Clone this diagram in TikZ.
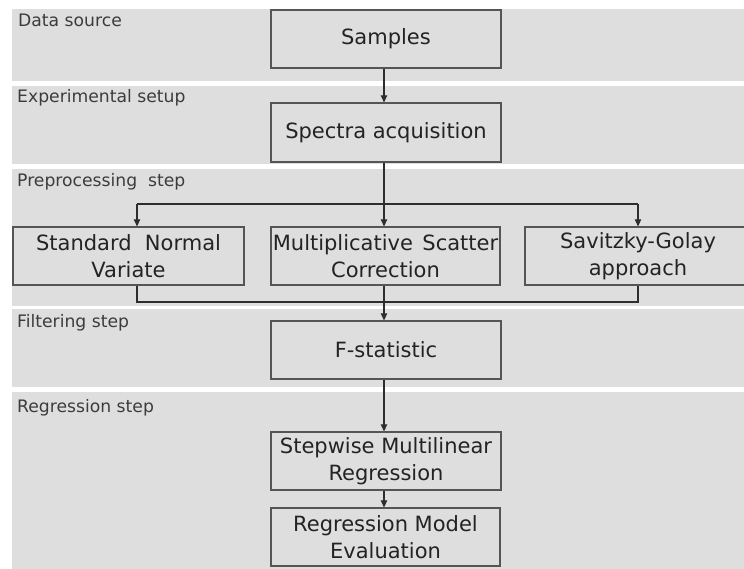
\documentclass[tikz,border=0pt]{standalone}
\usepackage{fontspec}
\setmainfont{DejaVu Sans}
\usetikzlibrary{arrows.meta}
\definecolor{bandgray}{RGB}{222,222,222}
\definecolor{boxline}{RGB}{85,85,85}
\definecolor{boxtext}{RGB}{35,35,35}
\definecolor{labeltext}{RGB}{60,60,60}
\definecolor{wire}{RGB}{45,45,45}
\tikzset{
  band/.style={fill=bandgray, draw=none},
  stagelabel/.style={anchor=base west, inner sep=0pt, text=labeltext,
    font=\fontsize{17.2}{20}\selectfont},
  stepbox/.style={draw=boxline, line width=1.3pt, inner sep=0pt,
    align=center, text=boxtext, font=\fontsize{21}{27}\selectfont,
    minimum height=58pt},
  wireline/.style={draw=wire, line width=1.1pt},
  arr/.style={wireline, -{Triangle[length=7pt,width=6.5pt]}}
}
\begin{document}
\begin{tikzpicture}[x=1pt,y=-1pt]
\useasboundingbox (0,0) rectangle (744,568);
\clip (0,0) rectangle (744,568);
\fill[white] (0,0) rectangle (744,568);

% stage bands
\path[band] (12,9) rectangle (760,81);
\path[band] (12,86) rectangle (760,164);
\path[band] (12,169) rectangle (760,306);
\path[band] (12,309) rectangle (760,387);
\path[band] (12,392) rectangle (760,580);

% stage labels
\node[stagelabel] (l1) at (18,26) {Data source};
\node[stagelabel] (l2) at (17,102) {Experimental setup};
\node[stagelabel] (l3) at (17,186) {Preprocessing\ \ step};
\node[stagelabel] (l4) at (17,327) {Filtering step};
\node[stagelabel] (l5) at (17,412) {Regression step};

% process boxes
\node[stepbox, minimum width=230pt] (smp) at (386,39) {Samples};
\node[stepbox, minimum width=230pt, minimum height=59pt] (spc) at (386,132.5) {Spectra acquisition};
\node[stepbox, minimum width=231pt] (snv) at (128.5,256) {Standard\ \ Normal\\Variate};
\node[stepbox, minimum width=229pt] (msc) at (385.5,256) {Multiplicative\hspace{0.45em}Scatter\\Correction};
\node[stepbox, minimum width=226pt] (sg) at (638,256) {Savitzky-Golay\\approach};
\node[stepbox, minimum width=230pt] (fst) at (386,350) {F-statistic};
\node[stepbox, minimum width=230pt] (swr) at (386,461) {Stepwise Multilinear\\Regression};
\node[stepbox, minimum width=229pt] (rme) at (385.5,537) {Regression Model\\Evaluation};

% spine, split and merge points
\coordinate (ax) at (384,0);
\coordinate (spl) at (137,204);
\coordinate (spr) at (638,204);
\coordinate (mgl) at (137,302);
\coordinate (mgr) at (638,302);
\coordinate (mgc) at (384,302);

% connectors
\draw[arr] (ax |- smp.south) -- (ax |- spc.north);
\draw[arr] (ax |- spc.south) -- (ax |- msc.north);
\draw[wireline] (spl) -- (spr);
\draw[arr] (spl) -- (spl |- snv.north);
\draw[arr] (spr) -- (spr |- sg.north);
\draw[wireline] (mgl |- snv.south) -- (mgl) -- (mgr) -- (mgr |- sg.south);
\draw[wireline] (mgc |- msc.south) -- (mgc);
\draw[arr] (mgc) -- (mgc |- fst.north);
\draw[arr] (ax |- fst.south) -- (ax |- swr.north);
\draw[arr] (ax |- swr.south) -- (ax |- rme.north);
\end{tikzpicture}
\end{document}
